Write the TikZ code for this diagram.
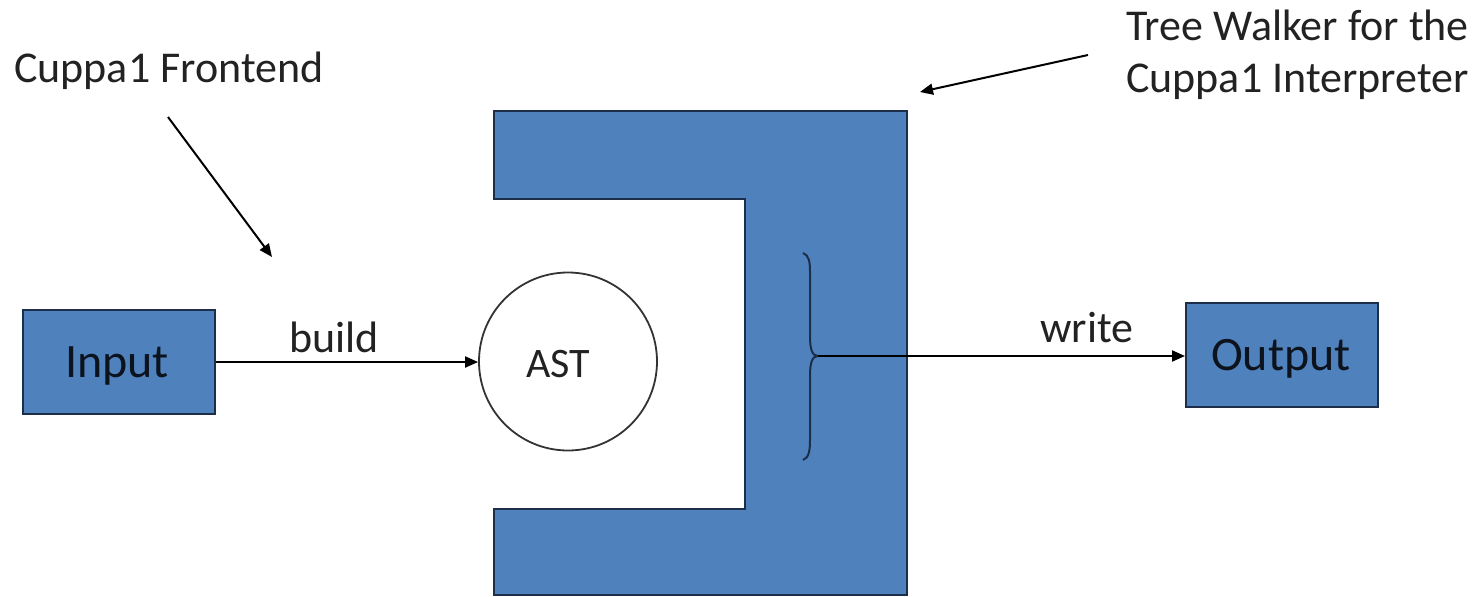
\documentclass[tikz,border=0pt]{standalone}
\usepackage{fontspec}
\setmainfont{Carlito}
\usetikzlibrary{arrows.meta}
\definecolor{boxblue}{HTML}{4F81BD}
\definecolor{boxedge}{HTML}{1C2E4A}
\definecolor{txt}{HTML}{222222}
\begin{document}
\begin{tikzpicture}[x=1pt,y=-1pt,
  blue box/.style={draw=boxedge,line width=2pt,fill=boxblue,inner sep=0pt},
  label text/.style={text=txt,font=\fontsize{44}{52}\selectfont,inner sep=0pt},
  box text/.style={font=\fontsize{48}{56}\selectfont,text=black!85!boxblue},
  conn/.style={line width=2pt,-{Triangle[length=13pt,width=11pt]}}]
\useasboundingbox (0,0) rectangle (1478,597);
% boxes
\node[blue box,minimum width=192pt,minimum height=104pt] (input) at (119,362) {};
\node[box text] (inputtext) at (117,366) {Input};
\node[blue box,minimum width=192pt,minimum height=104pt] (output) at (1282,355) {};
\node[box text] (outputtext) at (1281,359) {Output};
% AST
\node[draw=black!80,line width=1.8pt,circle,minimum size=178pt,inner sep=0pt,fill=white] (ast) at (568,361.5) {};
\node[label text,font=\fontsize{42}{50}\selectfont] (asttext) at (558,364) {AST};
% tree walker shape
\draw[blue box] (494,111) -- (907,111) -- (907,595) -- (494,595) -- (494,509)
  -- (745,509) -- (745,199) -- (494,199) -- cycle;
% brace
\coordinate (bracetip) at (818,356);
\draw[boxedge,line width=2pt] (803,253) .. controls (809,255) and (810,262) .. (810,272)
  -- (810,336) .. controls (810,349) and (812,356) .. (bracetip)
  .. controls (812,356) and (810,363) .. (810,376) -- (810,440)
  .. controls (810,450) and (809,458) .. (803,460);
% connectors
\draw[conn] (input.east |- 0,362) -- (ast.west |- 0,362);
\draw[conn] (bracetip) -- (output.west |- bracetip);
\node[label text] (build) at (334,337) {build};
\node[label text] (write) at (1087,328) {write};
% annotations
\node[label text,anchor=west] (frontend) at (14,71) {Cuppa1 Frontend};
\node[label text,anchor=west,align=left] (walker) at (1126,55) {Tree Walker for the\\Cuppa1 Interpreter};
\coordinate (fa) at (168,117);
\coordinate (fb) at (272,257);
\coordinate (wa) at (1088,55);
\coordinate (wb) at (920,92);
\draw[conn] (fa) -- (fb);
\draw[conn] (wa) -- (wb);
\end{tikzpicture}
\end{document}
